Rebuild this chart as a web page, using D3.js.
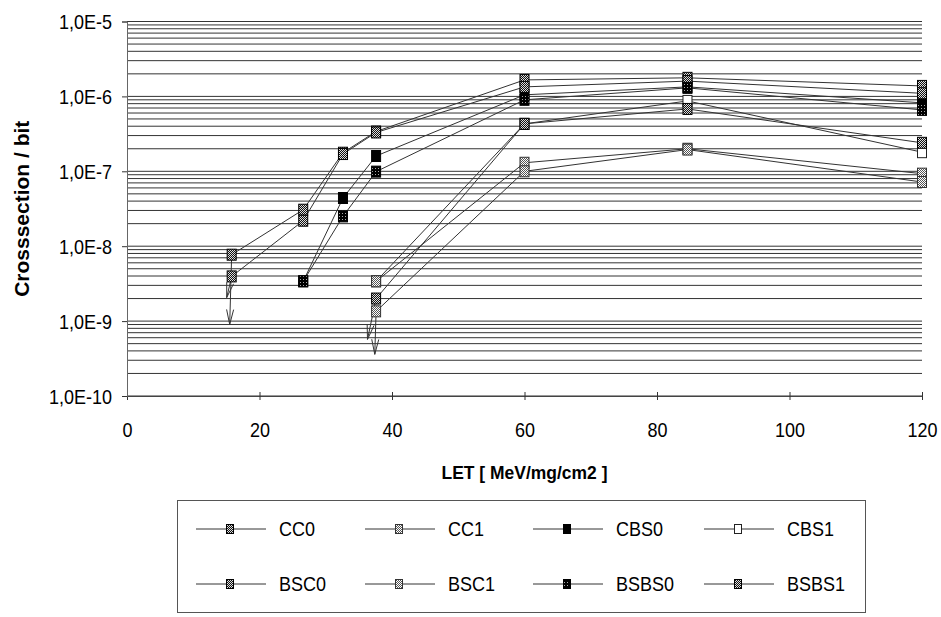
<!DOCTYPE html>
<html>
<head>
<meta charset="utf-8">
<script src="https://cdn.jsdelivr.net/npm/d3@7"></script>
<style>
  html, body { margin: 0; padding: 0; background: #fff; }
  svg { display: block; font-family: "Liberation Sans", Arial, sans-serif; }
</style>
</head>
<body>
<svg id="chart" width="941" height="617"></svg>
<script>
// LET values of the beam runs (MeV/mg/cm2)
const LET = [15.8, 26.6, 32.6, 37.6, 60, 84.6, 120];

// cross-section per bit for each cell type (null = no point at that LET)
const CC0   = [7.7e-9, 3.07e-8, 1.77e-7, 3.4e-7, 1.66e-6, 1.77e-6, 1.38e-6];
const CC1   = [null, null, null, 3.4e-9, 1.3e-7, 2.0e-7, 9.3e-8];
const CBS0  = [null, 3.4e-9, 4.4e-8, 1.6e-7, 1.05e-6, 1.34e-6, 8.2e-7];
const CBS1  = [null, null, null, 3.4e-9, 4.3e-7, 8.7e-7, 1.8e-7];
const BSC0  = [3.95e-9, 2.19e-8, 1.7e-7, 3.3e-7, 1.34e-6, 1.6e-6, 1.1e-6];
const BSC1  = [null, null, null, 1.35e-9, 1.0e-7, 1.95e-7, 7.2e-8];
const BSBS0 = [null, 3.4e-9, 2.5e-8, 9.9e-8, 9.0e-7, 1.3e-6, 6.6e-7];
const BSBS1 = [null, null, null, 2.0e-9, 4.3e-7, 6.8e-7, 2.4e-7];

const seriesNames = ["CC0", "CC1", "CBS0", "CBS1", "BSC0", "BSC1", "BSBS0", "BSBS1"];
const seriesValues = [CC0, CC1, CBS0, CBS1, BSC0, BSC1, BSBS0, BSBS1];

// upper-limit arrows: start LET/value and tip LET/value
const arrowStartLET = [15.8, 15.8, 37.6, 37.6];
const arrowStartVal = [7.7e-9, 3.95e-9, 2.0e-9, 1.35e-9];
const arrowTipLET   = [15.5, 15.05, 36.3, 37.4];
const arrowTipVal   = [9.0e-10, 2.06e-9, 5.7e-10, 3.6e-10];

// axis ticks
const xTicks = [0, 20, 40, 60, 80, 100, 120];
const yTicks = [1e-10, 1e-9, 1e-8, 1e-7, 1e-6, 1e-5];
const yTickLabels = ["1,0E-10", "1,0E-9", "1,0E-8", "1,0E-7", "1,0E-6", "1,0E-5"];

// marker fill per series
const markerFill = {
  CC0: "url(#chkDark)", CC1: "url(#chkLight)", CBS0: "#000", CBS1: "#fff",
  BSC0: "url(#chkDark)", BSC1: "url(#chkLight)", BSBS0: "url(#chkBlack)", BSBS1: "url(#chkDark)"
};
const markerStroke = {
  CC0: "#000", CC1: "#333", CBS0: "#000", CBS1: "#222",
  BSC0: "#000", BSC1: "#333", BSBS0: "#000", BSBS1: "#000"
};

const svg = d3.select("#chart");
svg.append("rect").attr("width", 941).attr("height", 617).attr("fill", "#fff");

const defs = svg.append("defs");
function checker(id, bg, fg, size) {
  const p = defs.append("pattern").attr("id", id)
    .attr("patternUnits", "userSpaceOnUse").attr("width", size).attr("height", size);
  p.append("rect").attr("width", size).attr("height", size).attr("fill", bg);
  p.append("rect").attr("x", 0).attr("y", 0).attr("width", 1).attr("height", 1).attr("fill", fg);
  if (size === 2) p.append("rect").attr("x", 1).attr("y", 1).attr("width", 1).attr("height", 1).attr("fill", fg);
}
checker("chkDark", "#111", "#ddd", 2);
checker("chkLight", "#fff", "#555", 2);
checker("chkBlack", "#000", "#aaa", 3);

const x = d3.scaleLinear().domain([0, 120]).range([127, 922]);
const y = d3.scaleLog().domain([1e-10, 1e-5]).range([396, 21.5]);

// horizontal grid: every 1..9 x 10^k
const gridVals = [];
for (let k = -10; k < -5; k++) for (let m = 1; m <= 9; m++) gridVals.push(m * Math.pow(10, k));
gridVals.push(1e-5);
svg.append("g").selectAll("line").data(gridVals).join("line")
  .attr("x1", x(0)).attr("x2", x(120))
  .attr("y1", d => y(d)).attr("y2", d => y(d))
  .attr("stroke", "#333").attr("stroke-width", 1);

// axes
const xAxis = svg.append("g").attr("transform", `translate(0,${y(1e-10)})`)
  .call(d3.axisBottom(x).tickValues(xTicks).tickSize(4).tickFormat(d3.format("d")));
xAxis.select(".domain").attr("stroke", "#444");
xAxis.selectAll(".tick line").attr("y1", -4).attr("y2", 4).attr("stroke", "#333");
xAxis.selectAll(".tick text")
  .attr("y", 0).attr("dy", 0)
  .attr("transform", "translate(0,41) scale(0.9,1)")
  .attr("font-size", 20).attr("fill", "#000")
  .attr("font-family", "Liberation Sans, Arial, sans-serif");

const yAxis = svg.append("g").attr("transform", `translate(${x(0)},0)`)
  .call(d3.axisLeft(y).tickValues(yTicks).tickSize(5).tickFormat((d, i) => yTickLabels[i]));
yAxis.select(".domain").attr("stroke", "#666").attr("stroke-width", 1);
yAxis.selectAll(".tick line").attr("stroke", "#333");
yAxis.selectAll(".tick text")
  .attr("x", 0).attr("dy", "0.36em")
  .attr("transform", "translate(-15,0) scale(0.9,1)")
  .attr("font-size", 20).attr("fill", "#000")
  .attr("font-family", "Liberation Sans, Arial, sans-serif");

// axis titles
svg.append("text")
  .attr("transform", `translate(${(x(0) + x(120)) / 2},479) scale(0.92,1)`)
  .attr("text-anchor", "middle").attr("font-weight", "bold").attr("font-size", 19)
  .text("LET [ MeV/mg/cm2 ]");
svg.append("text")
  .attr("transform", `translate(29,${(y(1e-10) + y(1e-5)) / 2}) rotate(-90)`)
  .attr("text-anchor", "middle").attr("font-weight", "bold").attr("font-size", 21)
  .text("Crosssection / bit");

// series lines
const line = d3.line()
  .defined(d => d.v != null)
  .x(d => x(d.let)).y(d => y(d.v));
const series = seriesNames.map((name, i) => ({
  name,
  pts: LET.map((l, j) => ({ let: l, v: seriesValues[i][j] }))
}));
svg.append("g").selectAll("path").data(series).join("path")
  .attr("d", d => line(d.pts))
  .attr("fill", "none").attr("stroke", "#333").attr("stroke-width", 1);

// upper-limit arrows
const arrows = arrowStartLET.map((l, i) => ({
  x0: x(l), y0: y(arrowStartVal[i]), x1: x(arrowTipLET[i]), y1: y(arrowTipVal[i])
}));
const ag = svg.append("g").attr("stroke", "#333").attr("stroke-width", 1).attr("fill", "none");
arrows.forEach(a => {
  const dx = a.x1 - a.x0, dy = a.y1 - a.y0, len = Math.hypot(dx, dy);
  const ux = dx / len, uy = dy / len, px = -uy, py = ux;
  const hl = 15, hw = 3.5;
  ag.append("path").attr("d",
    `M${a.x0},${a.y0}L${a.x1},${a.y1}` +
    `M${a.x1 - ux * hl + px * hw},${a.y1 - uy * hl + py * hw}L${a.x1},${a.y1}` +
    `L${a.x1 - ux * hl - px * hw},${a.y1 - uy * hl - py * hw}`);
});

// markers (white CBS1 underneath the others)
const drawOrder = ["CBS1", "CC0", "CC1", "CBS0", "BSC0", "BSC1", "BSBS0", "BSBS1"];
const mw = 9, mh = 11;
drawOrder.forEach(name => {
  const s = series.find(d => d.name === name);
  svg.append("g").selectAll("rect").data(s.pts.filter(p => p.v != null)).join("rect")
    .attr("x", d => x(d.let) - mw / 2).attr("y", d => y(d.v) - mh / 2)
    .attr("width", mw).attr("height", mh)
    .attr("fill", markerFill[name]).attr("stroke", markerStroke[name]).attr("stroke-width", 1);
});

// legend
const legendTextX = [279, 448, 616, 787];
const legendRowY = [529, 584];
const lg = svg.append("g");
lg.append("rect").attr("x", 177.5).attr("y", 500.5).attr("width", 688).attr("height", 112)
  .attr("fill", "none").attr("stroke", "#555").attr("stroke-width", 1);
seriesNames.forEach((name, i) => {
  const tx = legendTextX[i % 4], ty = legendRowY[Math.floor(i / 4)];
  lg.append("line").attr("x1", tx - 83).attr("x2", tx - 13).attr("y1", ty).attr("y2", ty)
    .attr("stroke", "#333").attr("stroke-width", 1);
  lg.append("rect").attr("x", tx - 49 - 3.5).attr("y", ty - 4.5).attr("width", 7).attr("height", 9)
    .attr("fill", markerFill[name]).attr("stroke", markerStroke[name]).attr("stroke-width", 1);
  lg.append("text").attr("transform", `translate(${tx},${ty + 7}) scale(0.9,1)`)
    .attr("font-size", 20).attr("fill", "#000").text(name);
});
</script>
</body>
</html>
